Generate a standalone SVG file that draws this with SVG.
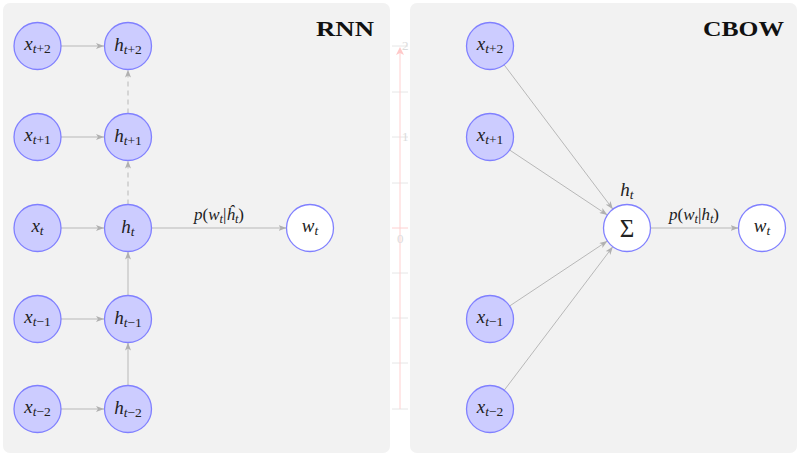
<svg xmlns="http://www.w3.org/2000/svg" width="800" height="456" viewBox="0 0 800 456">
<style>
.panel{fill:#f2f2f2;stroke:none}
.node circle{fill:#ccccff;stroke:#8080ff;stroke-width:1.3}
.node.out circle{fill:#ffffff}
.m{font-family:"Liberation Serif",serif;font-style:italic;font-size:19px;fill:#222}
.r{font-style:normal}
.s{font-size:13.5px}
.lbl{font-family:"Liberation Serif",serif;font-style:italic;font-size:17px;fill:#222}
.lbl .s{font-size:12.5px}
.title{font-family:"Liberation Serif",serif;font-weight:bold;font-size:22px;fill:#111}
.e{stroke:#b8b8b8;stroke-width:1;fill:none;marker-end:url(#ah)}
.d{stroke-dasharray:5,4}
.ax{stroke:#ffd0d0;stroke-width:1;fill:none}
.tk{stroke:#e6e6e6;stroke-width:1}
.axt{font-family:"Liberation Serif",serif;font-size:13px;fill:#dcdcdc}
</style>
<defs>
<marker id="ah" viewBox="0 0 8 6" refX="8" refY="3" markerWidth="8" markerHeight="6" markerUnits="userSpaceOnUse" orient="auto">
<path d="M0,0 L8,3 L0,6 L2,3 z" fill="#b0b0b0"/>
</marker>
<marker id="axh" viewBox="0 0 8 8" refX="6" refY="4" markerWidth="8" markerHeight="8" markerUnits="userSpaceOnUse" orient="auto">
<path d="M0,0 L8,4 L0,8 L2,4 z" fill="#ffc8c8"/>
</marker>
</defs>
<rect width="800" height="456" fill="#ffffff"/>
<rect class="panel" x="3" y="3" width="387" height="450" rx="7"/>
<rect class="panel" x="410" y="3" width="387" height="450" rx="7"/>

<g id="axis">
<line class="tk" x1="392" y1="46" x2="408" y2="46"/>
<line class="tk" x1="392" y1="92" x2="408" y2="92"/>
<line class="tk" x1="392" y1="137" x2="408" y2="137"/>
<line class="tk" x1="392" y1="183" x2="408" y2="183"/>
<line class="tk" x1="392" y1="273" x2="408" y2="273"/>
<line class="tk" x1="392" y1="318" x2="408" y2="318"/>
<line class="tk" x1="392" y1="363" x2="408" y2="363"/>
<line class="tk" x1="392" y1="409" x2="408" y2="409"/>
<line class="ax" x1="392" y1="228" x2="408" y2="228"/>
<line class="ax" x1="400" y1="409" x2="400" y2="49" marker-end="url(#axh)"/>
<text class="axt" x="402" y="50">2</text>
<text class="axt" x="402" y="141">1</text>
<text class="axt" x="397" y="243">0</text>
</g>

<g id="connectors">
<line class="e" x1="61" y1="46" x2="104" y2="46"/>
<line class="e" x1="61" y1="137" x2="104" y2="137"/>
<line class="e" x1="61" y1="228" x2="104" y2="228"/>
<line class="e" x1="61" y1="319" x2="104" y2="319"/>
<line class="e" x1="61" y1="409" x2="104" y2="409"/>
<line class="e" x1="128" y1="385.5" x2="128" y2="342.5"/>
<line class="e" x1="128" y1="295.5" x2="128" y2="251.5"/>
<line class="e d" x1="128" y1="204.5" x2="128" y2="160.5"/>
<line class="e d" x1="128" y1="113.5" x2="128" y2="69.5"/>
<line class="e" x1="151.5" y1="228" x2="286.5" y2="228"/>
<line class="e" x1="504.1" y1="64.8" x2="612.9" y2="209.2"/>
<line class="e" x1="509.6" y1="150" x2="607.4" y2="215"/>
<line class="e" x1="509.6" y1="306" x2="607.4" y2="241"/>
<line class="e" x1="504.2" y1="390.3" x2="612.8" y2="246.7"/>
<line class="e" x1="650.5" y1="228" x2="738.5" y2="228"/>
<text class="lbl" x="219" y="220" text-anchor="middle">p<tspan class="r">(</tspan>w<tspan class="s" dy="3">t</tspan><tspan dy="-3" class="r">|</tspan>ĥ<tspan class="s" dy="3">t</tspan><tspan dy="-3" class="r">)</tspan></text>
<text class="lbl" x="694" y="220" text-anchor="middle">p<tspan class="r">(</tspan>w<tspan class="s" dy="3">t</tspan><tspan dy="-3" class="r">|</tspan>h<tspan class="s" dy="3">t</tspan><tspan dy="-3" class="r">)</tspan></text>
</g>

<g id="title-rnn"><text class="title" x="316" y="36" textLength="58" lengthAdjust="spacingAndGlyphs">RNN</text></g>
<g id="title-cbow"><text class="title" x="703" y="36" textLength="81" lengthAdjust="spacingAndGlyphs">CBOW</text></g>

<g id="rnn-x-t+2" class="node"><circle cx="37.5" cy="46" r="23.5"/><text class="m" x="37.5" y="50" text-anchor="middle">x<tspan class="s" dy="3">t<tspan class="r">+2</tspan></tspan></text></g>
<g id="rnn-x-t+1" class="node"><circle cx="37.5" cy="137" r="23.5"/><text class="m" x="37.5" y="141" text-anchor="middle">x<tspan class="s" dy="3">t<tspan class="r">+1</tspan></tspan></text></g>
<g id="rnn-x-t" class="node"><circle cx="37.5" cy="228" r="23.5"/><text class="m" x="37.5" y="232" text-anchor="middle">x<tspan class="s" dy="3">t</tspan></text></g>
<g id="rnn-x-t-1" class="node"><circle cx="37.5" cy="319" r="23.5"/><text class="m" x="37.5" y="323" text-anchor="middle">x<tspan class="s" dy="3">t<tspan class="r">−1</tspan></tspan></text></g>
<g id="rnn-x-t-2" class="node"><circle cx="37.5" cy="409" r="23.5"/><text class="m" x="37.5" y="413" text-anchor="middle">x<tspan class="s" dy="3">t<tspan class="r">−2</tspan></tspan></text></g>

<g id="rnn-h-t+2" class="node"><circle cx="128" cy="46" r="23.5"/><text class="m" x="128" y="51" text-anchor="middle">h<tspan class="s" dy="3">t<tspan class="r">+2</tspan></tspan></text></g>
<g id="rnn-h-t+1" class="node"><circle cx="128" cy="137" r="23.5"/><text class="m" x="128" y="142" text-anchor="middle">h<tspan class="s" dy="3">t<tspan class="r">+1</tspan></tspan></text></g>
<g id="rnn-h-t" class="node"><circle cx="128" cy="228" r="23.5"/><text class="m" x="128" y="233" text-anchor="middle">h<tspan class="s" dy="3">t</tspan></text></g>
<g id="rnn-h-t-1" class="node"><circle cx="128" cy="319" r="23.5"/><text class="m" x="128" y="324" text-anchor="middle">h<tspan class="s" dy="3">t<tspan class="r">−1</tspan></tspan></text></g>
<g id="rnn-h-t-2" class="node"><circle cx="128" cy="409" r="23.5"/><text class="m" x="128" y="414" text-anchor="middle">h<tspan class="s" dy="3">t<tspan class="r">−2</tspan></tspan></text></g>

<g id="rnn-w-t" class="node out"><circle cx="310" cy="228" r="23.5"/><text class="m" x="310" y="232" text-anchor="middle">w<tspan class="s" dy="3">t</tspan></text></g>

<g id="cbow-x-t+2" class="node"><circle cx="490" cy="46" r="23.5"/><text class="m" x="490" y="50" text-anchor="middle">x<tspan class="s" dy="3">t<tspan class="r">+2</tspan></tspan></text></g>
<g id="cbow-x-t+1" class="node"><circle cx="490" cy="137" r="23.5"/><text class="m" x="490" y="141" text-anchor="middle">x<tspan class="s" dy="3">t<tspan class="r">+1</tspan></tspan></text></g>
<g id="cbow-x-t-1" class="node"><circle cx="490" cy="319" r="23.5"/><text class="m" x="490" y="323" text-anchor="middle">x<tspan class="s" dy="3">t<tspan class="r">−1</tspan></tspan></text></g>
<g id="cbow-x-t-2" class="node"><circle cx="490" cy="409" r="23.5"/><text class="m" x="490" y="413" text-anchor="middle">x<tspan class="s" dy="3">t<tspan class="r">−2</tspan></tspan></text></g>

<g id="cbow-sum" class="node out"><circle cx="627" cy="228" r="23.5"/><text class="m r" x="627" y="236.5" text-anchor="middle" style="font-size:25px">Σ</text><text class="m" x="627" y="196" text-anchor="middle">h<tspan class="s" dy="3">t</tspan></text></g>
<g id="cbow-w-t" class="node out"><circle cx="762" cy="228" r="23.5"/><text class="m" x="762" y="232" text-anchor="middle">w<tspan class="s" dy="3">t</tspan></text></g>
</svg>
